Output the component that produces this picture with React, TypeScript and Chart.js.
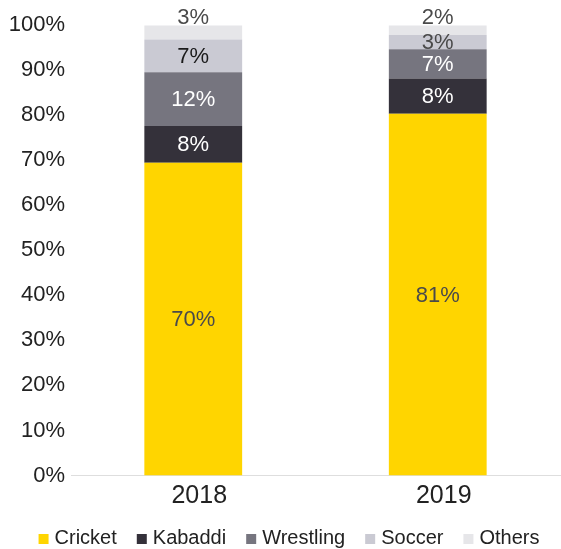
import React, { useEffect, useRef } from "react";
import { Chart, registerables } from "chart.js";

Chart.register(...registerables);

const categories = ["2018", "2019"];
const seriesNames = ["Cricket", "Kabaddi", "Wrestling", "Soccer", "Others"];
const cricket = [69.4, 80.3];
const kabaddi = [8.2, 7.8];
const wrestling = [11.9, 6.5];
const soccer = [7.3, 3.2];
const others = [3.1, 2.1];
const cricketLabels = ["70%", "81%"];
const kabaddiLabels = ["8%", "8%"];
const wrestlingLabels = ["12%", "7%"];
const soccerLabels = ["7%", "3%"];
const othersLabels = ["3%", "2%"];
const yTicks = [0, 10, 20, 30, 40, 50, 60, 70, 80, 90, 100];

const FONT = "'Liberation Sans', Arial, sans-serif";

export default function App() {
  const ref = useRef<HTMLCanvasElement>(null);
  useEffect(() => {
    const values = [cricket, kabaddi, wrestling, soccer, others];
    const texts = [cricketLabels, kabaddiLabels, wrestlingLabels, soccerLabels, othersLabels];
    const colors = ["#FFD500", "#34313A", "#76757F", "#CACAD3", "#E6E6E9"];
    const textColors = [
      ["#4a4a4a", "#4a4a4a"],
      ["#ffffff", "#ffffff"],
      ["#ffffff", "#ffffff"],
      ["#1a1a1a", "#4a4a4a"],
      ["#4a4a4a", "#4a4a4a"],
    ];
    const labelPlugin = {
      id: "segLabels",
      afterDatasetsDraw(chart: any) {
        const ctx = chart.ctx;
        ctx.save();
        ctx.font = `22px ${FONT}`;
        ctx.textAlign = "center";
        chart.data.datasets.forEach((ds: any, di: number) => {
          const meta = chart.getDatasetMeta(di);
          meta.data.forEach((bar: any, i: number) => {
            ctx.fillStyle = textColors[di][i];
            if (di === 4) {
              ctx.textBaseline = "bottom";
              ctx.fillText(texts[di][i], bar.x, bar.y + 3);
            } else {
              ctx.textBaseline = "middle";
              ctx.fillText(texts[di][i], bar.x, (bar.y + bar.base) / 2 + 1);
            }
          });
        });
        ctx.restore();
      },
    };
    const legendPlugin = {
      id: "customLegend",
      afterDraw(chart: any) {
        const ctx = chart.ctx;
        ctx.save();
        ctx.font = `20px ${FONT}`;
        ctx.textBaseline = "middle";
        ctx.textAlign = "left";
        const box = 10;
        const gapText = 6;
        const gapItem = 20;
        const widths = seriesNames.map((n) => box + gapText + ctx.measureText(n).width);
        const total = widths.reduce((a, b) => a + b, 0) + gapItem * (widths.length - 1);
        let x = 289 - total / 2;
        const cy = 538;
        seriesNames.forEach((n, i) => {
          ctx.fillStyle = colors[i];
          ctx.fillRect(x, cy - 4, box, box);
          ctx.fillStyle = "#222";
          ctx.fillText(n, x + box + gapText, cy);
          x += widths[i] + gapItem;
        });
        ctx.restore();
      },
    };
    const chart = new Chart(ref.current!, {
      type: "bar",
      data: {
        labels: categories,
        datasets: seriesNames.map((n, i) => ({
          label: n,
          data: values[i],
          backgroundColor: colors[i],
          borderWidth: 0,
          barPercentage: 0.4,
          categoryPercentage: 1,
        })),
      },
      options: {
        responsive: false,
        animation: false,
        layout: { padding: { top: 25, right: 1, left: 0, bottom: 33.5 } },
        plugins: {
          legend: { display: false },
          tooltip: { enabled: false },
        },
        scales: {
          x: {
            stacked: true,
            afterFit: (s: any) => {
              s.height = 40;
            },
            grid: { display: false, drawTicks: false },
            border: { display: true, color: "#dedede", width: 1 },
            ticks: { color: "#222", font: { family: FONT, size: 25 }, padding: 6, labelOffset: 6 },
          },
          y: {
            stacked: true,
            min: 0,
            max: 100,
            afterFit: (s: any) => {
              s.width = 71;
            },
            afterBuildTicks: (s: any) => {
              s.ticks = yTicks.map((v) => ({ value: v }));
            },
            grid: { display: false, drawTicks: false },
            border: { display: false },
            ticks: {
              color: "#222",
              font: { family: FONT, size: 22 },
              padding: 6,
              callback: (v: any) => v + "%",
            },
          },
        },
      },
      plugins: [labelPlugin, legendPlugin],
    });
    return () => chart.destroy();
  }, []);
  return (
    <div style={{ position: "fixed", left: 0, top: 0, width: 561, height: 549, background: "#fff" }}>
      <canvas ref={ref} width={561} height={549} />
    </div>
  );
}
